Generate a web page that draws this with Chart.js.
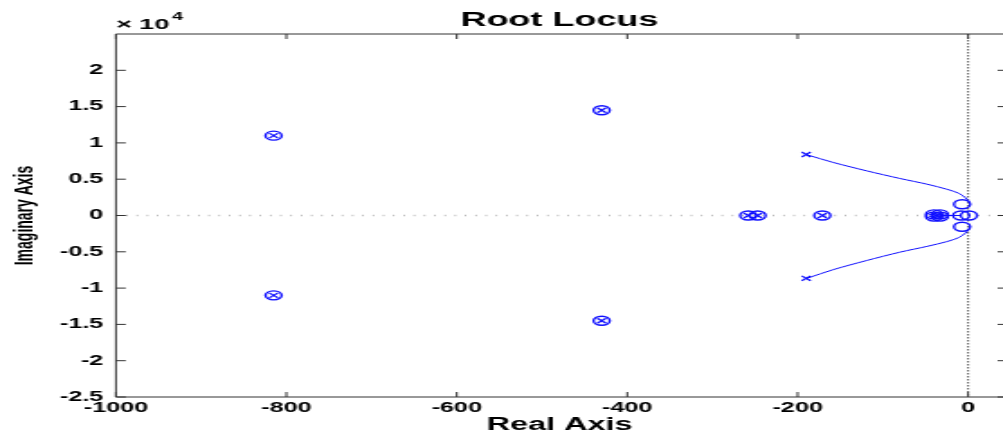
<!DOCTYPE html>
<html>
<head>
<meta charset="UTF-8">
<title>Root Locus</title>
<script src="https://cdn.jsdelivr.net/npm/chart.js"></script>
<style>
    body {
        margin: 0;
        background: #fff;
        overflow: hidden;
    }
    /* the reference is a stretched MATLAB figure, so the chart is drawn narrow and widened */
    #locus {
        position: absolute;
        left: 0;
        top: 0;
        width: 557px;
        height: 437px;
        transform: scaleX(1.8007);
        transform-origin: 0 0;
    }
</style>
</head>
<body>
<canvas id="locus" width="557" height="437"></canvas>
<script>
    // tick values
    const xTicks = [-1000, -800, -600, -400, -200, 0];
    const yTicks = [-25000, -20000, -15000, -10000, -5000, 0, 5000, 10000, 15000, 20000];

    // open-loop poles (x)
    const poleRe = [-815, -815, -430, -430, -258, -247, -171, -40, -40, -33, -33, -190, -190];
    const poleIm = [11000, -11000, 14500, -14500, 0, 0, 0, 150, -150, 150, -150, 8400, -8650];

    // open-loop zeros (o)
    const zeroRe = [-815, -815, -430, -430, -258, -247, -171, -40, -40, -33, -33, -7, -7, -8, 1];
    const zeroIm = [11000, -11000, 14500, -14500, 0, 0, 0, 150, -150, 150, -150, 1550, -1550, 0, 0];

    // locus branches
    const upperRe = [-189, -158, -119, -80, -48, -25, -11, -3.5, 0.4, 2.3];
    const upperIm = [8360, 7300, 6150, 5100, 4310, 3620, 3070, 2480, 2030, 1560];
    const lowerRe = [-189, -158, -119, -80, -48, -25, -11, -3.5, 0.4, 2.3];
    const lowerIm = [-8650, -7450, -6200, -5050, -4250, -3600, -3050, -2450, -2000, -1550];
    const axisRe = [-33, -8];
    const axisIm = [0, 0];

    const blue = '#0f0fff';

    function pts(re, im) {
        return re.map((v, i) => ({ x: v, y: im[i] }));
    }

    // zero lines, box and inward ticks like MATLAB
    const frame = {
        id: 'frame',
        beforeDatasetsDraw(chart) {
            const { ctx, chartArea: a, scales: { x, y } } = chart;
            ctx.save();
            ctx.strokeStyle = '#aaa';
            ctx.lineWidth = 1.3;
            ctx.setLineDash([0.8, 4.9]);
            const y0 = y.getPixelForValue(0);
            ctx.beginPath();
            ctx.moveTo(a.left, y0);
            ctx.lineTo(a.right, y0);
            ctx.stroke();
            ctx.strokeStyle = '#666';
            ctx.lineWidth = 1.1;
            ctx.setLineDash([1.5, 1.5]);
            const x0 = x.getPixelForValue(0);
            ctx.beginPath();
            ctx.moveTo(x0, a.top);
            ctx.lineTo(x0, a.bottom);
            ctx.stroke();
            ctx.restore();
        },
        afterDraw(chart) {
            const { ctx, chartArea: a, scales: { x, y } } = chart;
            ctx.save();
            ctx.strokeStyle = '#333';
            ctx.lineWidth = 1;
            // right edge of the box falls outside the picture, only its ticks show
            ctx.beginPath();
            ctx.moveTo(a.right + 1, a.top);
            ctx.lineTo(a.left, a.top);
            ctx.lineTo(a.left, a.bottom);
            ctx.lineTo(a.right + 1, a.bottom);
            xTicks.forEach(v => {
                const px = x.getPixelForValue(v);
                ctx.moveTo(px, a.bottom);
                ctx.lineTo(px, a.bottom - 5);
                ctx.moveTo(px, a.top);
                ctx.lineTo(px, a.top + 5);
            });
            yTicks.forEach(v => {
                const py = y.getPixelForValue(v);
                ctx.moveTo(a.left, py);
                ctx.lineTo(a.left + 5.5, py);
                ctx.moveTo(a.right + 1, py);
                ctx.lineTo(a.right - 3, py);
            });
            ctx.stroke();

            // exponent of the y axis
            ctx.fillStyle = '#000';
            ctx.textBaseline = 'alphabetic';
            ctx.font = 'bold 15px "Liberation Sans", Arial, sans-serif';
            ctx.fillText('\u00d7 10', a.left, 29);
            ctx.font = 'bold 11px "Liberation Sans", Arial, sans-serif';
            ctx.fillText('4', a.left + 31, 20);
            ctx.restore();
        }
    };

    new Chart(document.getElementById('locus'), {
        type: 'scatter',
        data: {
            datasets: [
                {
                    type: 'line',
                    data: pts(upperRe, upperIm),
                    borderColor: blue,
                    borderWidth: 1,
                    pointRadius: 0,
                    tension: 0.3
                },
                {
                    type: 'line',
                    data: pts(lowerRe, lowerIm),
                    borderColor: blue,
                    borderWidth: 1,
                    pointRadius: 0,
                    tension: 0.3
                },
                {
                    type: 'line',
                    data: pts(axisRe, axisIm),
                    borderColor: blue,
                    borderWidth: 1,
                    pointRadius: 0
                },
                {
                    data: pts(zeroRe, zeroIm),
                    pointStyle: 'circle',
                    pointRadius: 4.5,
                    borderColor: blue,
                    backgroundColor: 'transparent',
                    borderWidth: 1.4
                },
                {
                    data: pts(poleRe, poleIm),
                    pointStyle: 'crossRot',
                    pointRadius: 3.5,
                    borderColor: blue,
                    borderWidth: 1.2
                }
            ]
        },
        options: {
            responsive: false,
            devicePixelRatio: 1,
            animation: false,
            layout: { autoPadding: false, padding: 0 },
            plugins: {
                legend: { display: false },
                tooltip: { enabled: false },
                title: {
                    display: true,
                    text: 'Root Locus',
                    fullSize: false,
                    color: '#000',
                    font: { family: '"Liberation Sans", Arial, sans-serif', size: 20, weight: 'bold', lineHeight: 1.2 },
                    padding: { top: 8, bottom: 2 }
                }
            },
            scales: {
                x: {
                    type: 'linear',
                    min: -1000,
                    max: 41,
                    afterBuildTicks: s => { s.ticks = xTicks.map(v => ({ value: v })); },
                    afterFit: s => {
                        s.height = 40;
                        s.paddingLeft = 0;
                        s.paddingRight = 0;
                    },
                    grid: { display: false, drawTicks: false },
                    border: { display: false },
                    ticks: {
                        padding: 3,
                        color: '#000',
                        font: { family: '"Liberation Sans", Arial, sans-serif', size: 14, weight: 'bold' },
                        callback: v => String(v)
                    },
                    title: {
                        display: true,
                        text: 'Real Axis',
                        color: '#000',
                        font: { family: '"Liberation Sans", Arial, sans-serif', size: 18, weight: 'bold', lineHeight: 1.2 },
                        padding: { top: 0, bottom: 1 }
                    }
                },
                y: {
                    type: 'linear',
                    min: -25000,
                    max: 25000,
                    afterBuildTicks: s => { s.ticks = yTicks.map(v => ({ value: v })); },
                    afterFit: s => {
                        s.width = 64.4;
                        s.paddingTop = 0;
                        s.paddingBottom = 0;
                    },
                    grid: { display: false, drawTicks: false },
                    border: { display: false },
                    ticks: {
                        padding: 7,
                        color: '#000',
                        font: { family: '"Liberation Sans", Arial, sans-serif', size: 14, weight: 'bold' },
                        callback: v => String(v / 10000)
                    },
                    title: {
                        display: true,
                        text: 'Imaginary Axis',
                        color: '#000',
                        font: { family: '"Liberation Sans", Arial, sans-serif', size: 14, weight: 'bold', lineHeight: 1.2 },
                        padding: { top: 6, bottom: 0 }
                    }
                }
            }
        },
        plugins: [frame]
    });
</script>
</body>
</html>
